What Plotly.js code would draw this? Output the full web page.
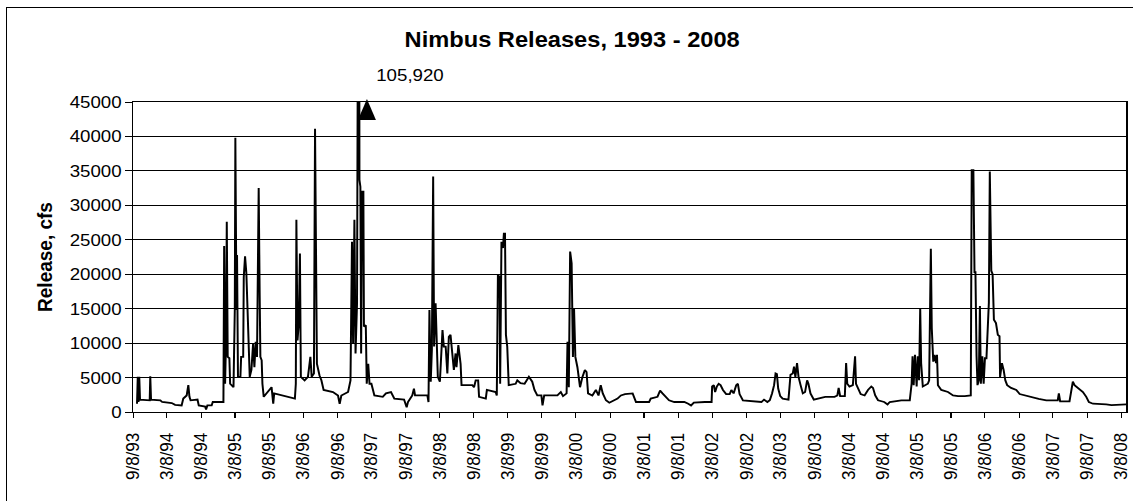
<!DOCTYPE html>
<html><head><meta charset="utf-8">
<script src="https://cdn.plot.ly/plotly-3.0.1.min.js"></script>
<style>
html,body{margin:0;padding:0;background:#fff;overflow:hidden;width:1133px;height:501px;}
#chart{position:absolute;left:0;top:0;width:1030px;height:501px;transform:scaleX(1.1);transform-origin:0 0;}
#frame{position:absolute;left:6px;top:7px;width:1300px;height:700px;border-left:1px solid #000;border-top:1px solid #000;pointer-events:none;}
</style></head><body>
<div id="chart"></div><div id="frame"></div>
<script>
// Nimbus Dam releases (cfs)
var dates1993_1997 = ['1993-09-29','1993-10-03','1993-10-07','1993-10-11','1993-10-15','1993-12-06','1993-12-09','1993-12-13','1994-02-01','1994-02-11','1994-04-03','1994-04-21','1994-05-26','1994-06-04','1994-06-22','1994-07-01','1994-07-07','1994-07-13','1994-08-19','1994-08-26','1994-09-29','1994-10-04','1994-10-11','1994-11-03','1994-11-09','1995-01-05','1995-01-09','1995-01-14','1995-01-19','1995-01-23','1995-01-28','1995-02-06','1995-02-10','1995-02-28','1995-03-07','1995-03-10','1995-03-16','1995-03-19','1995-03-24','1995-04-06','1995-04-10','1995-04-21','1995-04-24','1995-05-01','1995-05-08','1995-05-17','1995-05-26','1995-06-04','1995-06-13','1995-06-20','1995-06-27','1995-07-04','1995-07-13','1995-07-18','1995-07-22','1995-07-29','1995-08-02','1995-08-09','1995-09-01','1995-09-20','1995-09-29','1995-10-04','1996-01-23','1996-01-28','1996-01-31','1996-02-06','1996-02-13','1996-02-19','1996-02-24','1996-03-15','1996-04-02','1996-04-15','1996-04-22','1996-05-04','1996-05-10','1996-05-15','1996-05-20','1996-06-03','1996-06-13','1996-06-25','1996-08-14','1996-09-10','1996-09-19','1996-09-28','1996-11-03','1996-11-16','1996-11-24','1996-11-30','1996-12-07','1996-12-13','1996-12-21','1996-12-31','1997-01-03','1997-01-08','1997-01-12','1997-01-17','1997-01-24','1997-01-27','1997-02-06','1997-02-11','1997-02-19','1997-02-26','1997-03-08','1997-03-24','1997-05-08','1997-05-25','1997-06-21','1997-07-09'];
var flows1993_1997 = [1200,5100,1450,5100,1800,1700,5200,1800,1700,1450,1300,1050,950,1950,2400,3900,2200,1700,1800,950,800,350,950,950,1450,1450,24100,4100,10400,27600,8000,7800,4100,3600,14800,39800,14800,22800,5100,5100,8000,8000,19600,22600,20100,13800,5100,6100,9900,6500,10200,8000,32500,17700,8000,7500,4100,2200,2900,3600,1200,2700,1950,4100,27900,10400,12900,23000,5100,4600,5100,8000,5100,5600,41100,12900,7000,5300,4600,3200,2900,2400,1200,2400,2900,4600,24700,9900,27900,8500,15800,105920,33700,32700,8500,32000,32000,12400,12600,4100,7000,4100,4100,2400,2200,2700,2900,1950];

var dates1997_2002 = ['1997-08-30','1997-09-13','1997-09-20','1997-10-13','1997-10-22','1997-10-28','1998-01-02','1998-01-08','1998-01-13','1998-01-20','1998-01-26','1998-02-02','1998-02-07','1998-02-15','1998-02-20','1998-02-27','1998-03-10','1998-03-19','1998-03-24','1998-03-31','1998-04-10','1998-04-19','1998-04-27','1998-05-06','1998-05-15','1998-05-24','1998-06-02','1998-06-07','1998-06-17','1998-06-24','1998-06-29','1998-07-04','1998-08-31','1998-09-09','1998-09-18','1998-10-01','1998-10-06','1998-11-11','1998-11-17','1999-01-03','1999-01-09','1999-01-15','1999-01-24','1999-01-27','1999-02-03','1999-02-11','1999-02-16','1999-02-22','1999-02-27','1999-03-06','1999-03-09','1999-03-14','1999-04-20','1999-04-29','1999-05-16','1999-06-07','1999-06-30','1999-07-18','1999-07-30','1999-08-14','1999-09-05','1999-09-11','1999-09-20','1999-11-30','1999-12-18','1999-12-30','2000-01-18','2000-01-23','2000-01-30','2000-02-06','2000-02-14','2000-02-21','2000-02-27','2000-03-05','2000-03-16','2000-03-30','2000-04-12','2000-04-25','2000-05-04','2000-05-12','2000-06-04','2000-06-23','2000-07-07','2000-07-19','2000-07-30','2000-08-16','2000-09-03','2000-09-30','2000-10-17','2000-11-04','2000-11-26','2001-01-06','2001-01-16','2001-01-24','2001-04-04','2001-04-13','2001-05-19','2001-06-02','2001-06-15','2001-07-03','2001-07-20','2001-08-17','2001-10-10','2001-10-31','2001-11-15','2001-11-30','2002-01-08'];
var flows1997_2002 = [1800,700,1450,2400,3400,2400,2400,1450,14800,4400,9000,34200,9500,15800,9500,5100,4400,9000,11900,9500,9500,5600,10900,11200,9000,6100,8500,6500,9700,8500,7000,3900,3900,3600,4600,4600,2200,1950,3200,2900,2400,19900,19600,4100,24700,23800,25900,25900,11200,9500,5100,3900,4100,4600,4200,4100,5100,4400,3200,2400,2400,950,2400,2400,2900,2300,2700,10200,3600,23300,21600,8000,15000,8000,6500,3600,5100,6100,5800,2700,2400,3200,2400,3900,2700,1700,1350,1700,1950,2400,2600,2700,1950,1450,1450,1950,2200,3100,2700,2200,1700,1450,1450,1200,950,1350,1450];

var dates2002_2008 = ['2002-01-28','2002-03-05','2002-03-08','2002-03-17','2002-03-24','2002-04-02','2002-04-12','2002-04-22','2002-05-05','2002-05-22','2002-06-10','2002-06-19','2002-07-01','2002-07-15','2002-07-24','2002-08-02','2002-08-20','2002-11-27','2002-12-11','2002-12-29','2003-01-11','2003-01-23','2003-02-03','2003-02-11','2003-02-18','2003-02-25','2003-03-08','2003-03-21','2003-04-21','2003-05-02','2003-05-14','2003-05-21','2003-05-28','2003-06-06','2003-06-14','2003-06-25','2003-07-07','2003-07-19','2003-07-30','2003-08-06','2003-08-17','2003-09-04','2003-09-26','2003-11-04','2003-12-24','2004-01-08','2004-01-15','2004-01-23','2004-02-17','2004-02-24','2004-03-01','2004-03-13','2004-03-31','2004-04-12','2004-04-17','2004-04-28','2004-05-12','2004-06-02','2004-06-20','2004-07-08','2004-07-17','2004-07-29','2004-08-13','2004-09-15','2004-10-03','2004-10-15','2004-12-16','2005-01-30','2005-02-09','2005-02-14','2005-02-20','2005-02-27','2005-03-08','2005-03-14','2005-03-21','2005-03-27','2005-04-01','2005-04-10','2005-05-07','2005-05-14','2005-05-18','2005-05-23','2005-05-28','2005-06-05','2005-06-12','2005-06-20','2005-06-25','2005-06-30','2005-07-18','2005-08-23','2005-09-19','2005-10-16','2005-11-21','2005-12-23','2005-12-28','2006-01-06','2006-01-12','2006-01-17','2006-01-23','2006-01-28','2006-02-04','2006-02-10','2006-02-15','2006-02-23','2006-03-02','2006-03-09','2006-03-17','2006-03-24','2006-03-30','2006-04-04','2006-04-12','2006-04-19','2006-04-26','2006-05-07','2006-05-17','2006-05-26','2006-05-29','2006-06-08','2006-06-17','2006-06-26','2006-07-06','2006-07-27','2006-08-24','2006-09-11','2006-10-08','2006-11-13','2006-12-22','2007-02-01','2007-04-03','2007-04-09','2007-04-16','2007-06-05','2007-06-14','2007-06-23','2007-07-02','2007-07-11','2007-07-28','2007-08-16','2007-09-03','2007-09-17','2007-10-09','2007-11-23','2007-12-19','2008-01-16','2008-03-17','2008-04-04'];
var flows2002_2008 = [1450,1450,3700,3900,2900,3700,4100,3900,3200,2600,2600,3200,2700,3900,4100,2600,1700,1450,1800,1450,1700,2700,3900,5600,5500,3400,2300,1950,1800,5400,5600,6600,5100,7100,5100,3900,2700,2900,4600,4100,2700,1800,1950,2200,2200,2400,3500,2300,2300,7100,4100,3700,3900,8100,4100,3400,2600,2400,3200,3700,3500,2400,1700,1450,1100,1450,1700,1700,4100,8100,3900,8300,3700,8100,4600,15100,7100,3700,4100,4600,16800,23700,12200,7300,8300,7100,8300,3900,3200,2900,2400,2300,2300,2400,35100,35100,20300,20300,8100,3900,4600,15400,4100,8100,4100,7800,7800,13400,15900,34900,20500,20000,13400,12900,11200,11000,5100,7100,6100,4600,3900,3500,3200,2600,2400,2100,1900,1700,1700,2700,1550,1550,3400,4400,3900,3700,3400,2900,2200,1450,1200,1200,1100,1000,1000,1100];

var tickDates = ['1993-09-08','1994-03-08','1994-09-08','1995-03-08','1995-09-08','1996-03-08','1996-09-08','1997-03-08','1997-09-08','1998-03-08','1998-09-08','1999-03-08','1999-09-08','2000-03-08','2000-09-08','2001-03-08','2001-09-08','2002-03-08','2002-09-08','2003-03-08','2003-09-08','2004-03-08','2004-09-08','2005-03-08','2005-09-08','2006-03-08','2006-09-08','2007-03-08','2007-09-08','2008-03-08'];
var tickLabels = ['9/8/93','3/8/94','9/8/94','3/8/95','9/8/95','3/8/96','9/8/96','3/8/97','9/8/97','3/8/98','9/8/98','3/8/99','9/8/99','3/8/00','9/8/00','3/8/01','9/8/01','3/8/02','9/8/02','3/8/03','9/8/03','3/8/04','9/8/04','3/8/05','9/8/05','3/8/06','9/8/06','3/8/07','9/8/07','3/8/08'];

var xRange = ['1993-09-08','2008-04-05'];
var yRange = [0, 45000];

var dates = dates1993_1997.concat(dates1997_2002, dates2002_2008);
var flows = flows1993_1997.concat(flows1997_2002, flows2002_2008);

var peakVal = Math.max.apply(null, flows);
var peakDate = dates[flows.indexOf(peakVal)];

var FONT = 'Liberation Sans, Arial, sans-serif';

var trace = {
  x: dates, y: flows, type: 'scatter', mode: 'lines',
  line: {color: '#000', width: 1.8},
  hoverinfo: 'skip', showlegend: false
};

var layout = {
  width: 1030, height: 501,
  margin: {l: 121, r: 6, t: 102, b: 89, pad: 0},
  paper_bgcolor: 'rgba(0,0,0,0)', plot_bgcolor: '#fff',
  font: {family: FONT, color: '#000', size: 17},
  showlegend: false,
  title: {text: 'Nimbus Releases, 1993 - 2008', font: {family: FONT, size: 21.5, weight: 'bold', color: '#000'},
          xref: 'container', x: 0.505, xanchor: 'center', yref: 'container', y: 0.922, yanchor: 'middle'},
  xaxis: {
    type: 'date', range: xRange, tickmode: 'array', tickvals: tickDates, ticktext: tickLabels,
    tickangle: -90, ticks: 'outside', ticklen: 5, tickwidth: 1, tickcolor: '#000',
    showgrid: false, zeroline: false, showline: true, linecolor: '#000', linewidth: 1, mirror: true,
    tickfont: {family: FONT, size: 17, color: '#000'}, ticklabelstandoff: 8
  },
  yaxis: {
    range: yRange, tickmode: 'linear', tick0: 0, dtick: 5000, tickformat: 'd',
    ticks: 'outside', ticklen: 6, tickwidth: 1, tickcolor: '#000',
    showgrid: true, gridcolor: '#000', gridwidth: 1, zeroline: false,
    showline: true, linecolor: '#000', linewidth: 1, mirror: true,
    tickfont: {family: FONT, size: 17, color: '#000'}, ticklabelstandoff: 2.5,
    title: {text: 'Release, cfs', font: {family: FONT, size: 19, weight: 'bold', color: '#000'}, standoff: 10}
  },
  shapes: [{
    type: 'path', xref: 'x', yref: 'paper', xsizemode: 'pixel', ysizemode: 'pixel',
    xanchor: peakDate, yanchor: 1,
    path: 'M 7.3 3 L -0.9 -18 L 15.5 -18 Z',
    fillcolor: '#000', line: {width: 0}, layer: 'above'
  }],
  annotations: [{
    xref: 'x', yref: 'paper', x: peakDate, y: 1, xshift: 46, yshift: 27,
    xanchor: 'center', yanchor: 'middle', showarrow: false,
    text: peakVal.toLocaleString('en-US'), font: {family: FONT, size: 17, color: '#000'}
  }]
};

Plotly.newPlot('chart', [trace], layout, {staticPlot: true, displayModeBar: false});
</script></body></html>
